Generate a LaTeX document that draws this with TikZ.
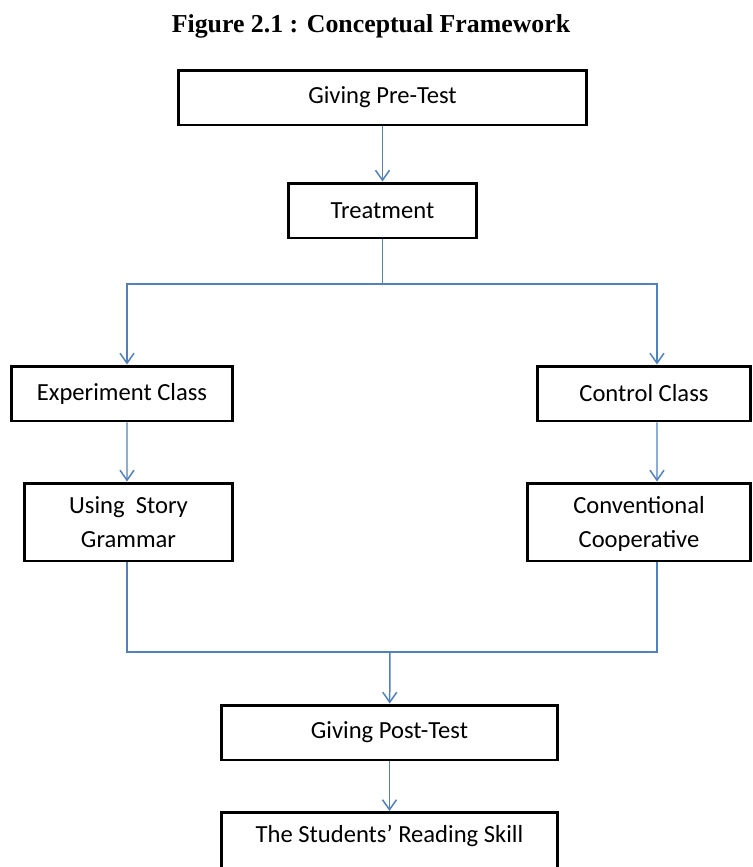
\documentclass[tikz,border=0pt]{standalone}
\usepackage{fontspec}
\setmainfont{Carlito}
\newfontfamily\titlefont{Liberation Serif}
\usetikzlibrary{arrows.meta,calc}
\definecolor{linkblue}{RGB}{79,129,189}
\tikzset{
	box/.style={draw=black, line width=1.7pt, fill=white, inner sep=0pt, align=center, font=\fontsize{14}{19}\selectfont},
	link/.style={draw=linkblue, line width=0.85pt, -{Straight Barb[length=2mm,width=2.8mm]}},
	joint/.style={draw=linkblue, line width=0.85pt}
}

\begin{document}
\begin{tikzpicture}[x=0.02cm, y=-0.02cm]
		%%%%% START %%%%%
		\useasboundingbox (0, 0) rectangle (753, 867);
		\clip (0, 0) rectangle (753, 867);
		
		\node (title) at (371, 26) {\titlefont\bfseries\fontsize{14.7}{16}\selectfont Figure 2.1 : Conceptual Framework};
		
		\node[box, minimum width=8.18cm, minimum height=1.1cm] (pre) at (382.5, 97.5) {Giving Pre-Test};
		\node[box, minimum width=3.78cm, minimum height=1.1cm] (treat) at (382.5, 210.5) {Treatment};
		
		\node[box, minimum width=4.44cm, minimum height=1.1cm] (exp) at (122, 393.5) {Experiment Class};
		\node[box, minimum width=4.28cm, minimum height=1.1cm] (ctrl) at (644, 393.5) {Control Class};
		
		\node[box, minimum width=4.18cm, minimum height=1.56cm, text depth=0pt] (story) at (128.5, 522) {Using~ Story\\Grammar};
		\node[box, minimum width=4.48cm, minimum height=1.56cm, text depth=0pt] (conv) at (639, 522) {Conventional\\Cooperative};
		
		\node[box, minimum width=6.74cm, minimum height=1.1cm] (post) at (389.5, 732.5) {Giving Post-Test};
		\node[box, minimum width=6.74cm, minimum height=1.2cm, anchor=north] (skill) at (389.5, 811) {};
		\node (skilltext) at (389.5, 836) {\fontsize{14}{19}\selectfont The Students' Reading Skill};
		
		\coordinate (split) at (382.5, 284);
		\coordinate (merge) at (390, 652);
		
		\draw[link] (pre) -- (treat);
		\draw[joint] (treat.south) -- (split);
		\draw[link] (split) -| ([xshift=0.1cm]exp.north);
		\draw[link] (split) -| ([xshift=0.26cm]ctrl.north);
		
		\draw[link] ([xshift=0.1cm]exp.south) -- ([xshift=-0.03cm]story.north);
		\draw[link] ([xshift=0.26cm]ctrl.south) -- ([xshift=0.36cm]conv.north);
		
		\draw[joint] ([xshift=-0.03cm]story.south) |- (merge);
		\draw[joint] ([xshift=0.36cm]conv.south) |- (merge);
		\draw[link] (merge) -- (post);
		\draw[link] (post) -- (skill);
		%%%%% END %%%%%
	\end{tikzpicture}
\end{document}
